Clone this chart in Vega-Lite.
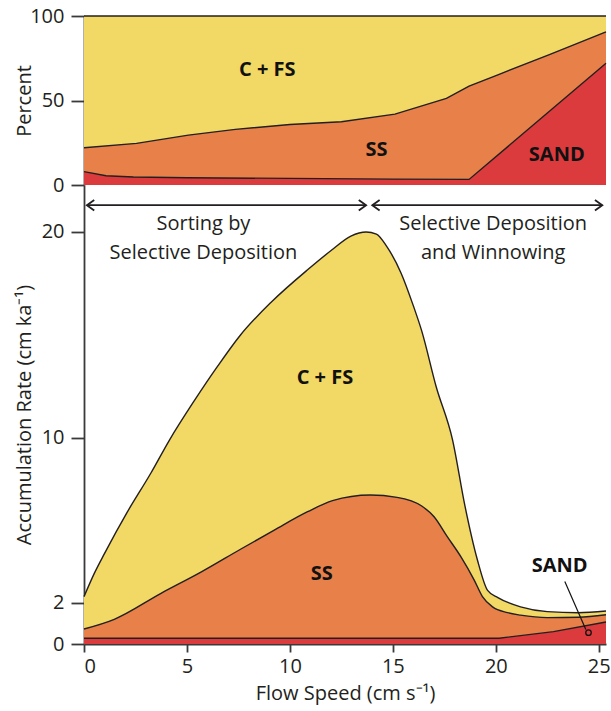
{
  "$schema": "https://vega.github.io/schema/vega-lite/v6.json",
  "background": "white",
  "padding": {"left": 14, "top": 6, "right": 2, "bottom": 2},
  "spacing": 0,
  "bounds": "flush",
  "config": {
    "view": {"stroke": null},
    "font": "Open Sans",
    "axis": {
      "domainColor": "#3a3a3a", "domainWidth": 1.8,
      "tickColor": "#3a3a3a", "tickWidth": 1.8,
      "labelFontSize": 20, "labelColor": "#231f20", "labelFont": "Open Sans",
      "titleFontSize": 20, "titleFontWeight": "normal", "titleColor": "#231f20", "titleFont": "Open Sans",
      "grid": false
    }
  },
  "datasets": {
    "pct": [
      {"series": "C + FS", "flow": 0, "value": 100},
      {"series": "C + FS", "flow": 25.35, "value": 100},
      {"series": "SS", "flow": 0, "value": 22},
      {"series": "SS", "flow": 2.55, "value": 24.6},
      {"series": "SS", "flow": 5.07, "value": 29.5},
      {"series": "SS", "flow": 7.35, "value": 32.9},
      {"series": "SS", "flow": 10, "value": 35.8},
      {"series": "SS", "flow": 12.5, "value": 37.4},
      {"series": "SS", "flow": 15.1, "value": 41.9},
      {"series": "SS", "flow": 17.6, "value": 51.2},
      {"series": "SS", "flow": 18.7, "value": 58.5},
      {"series": "SS", "flow": 20.1, "value": 65.2},
      {"series": "SS", "flow": 22.6, "value": 77.2},
      {"series": "SS", "flow": 25.35, "value": 90.6},
      {"series": "SAND", "flow": 0, "value": 7.9},
      {"series": "SAND", "flow": 1.07, "value": 5.5},
      {"series": "SAND", "flow": 2.4, "value": 4.7},
      {"series": "SAND", "flow": 5, "value": 4.3},
      {"series": "SAND", "flow": 10, "value": 3.9},
      {"series": "SAND", "flow": 15, "value": 3.5},
      {"series": "SAND", "flow": 18.7, "value": 3.3},
      {"series": "SAND", "flow": 25.35, "value": 72}
    ],
    "acc": [
      {"series": "C + FS", "flow": 0, "value": 2.3},
      {"series": "C + FS", "flow": 0.5, "value": 3.43},
      {"series": "C + FS", "flow": 1.0, "value": 4.4},
      {"series": "C + FS", "flow": 2.1, "value": 6.4},
      {"series": "C + FS", "flow": 3.25, "value": 8.3},
      {"series": "C + FS", "flow": 4.15, "value": 9.9},
      {"series": "C + FS", "flow": 5.35, "value": 11.8},
      {"series": "C + FS", "flow": 6.5, "value": 13.5},
      {"series": "C + FS", "flow": 7.6, "value": 15.0},
      {"series": "C + FS", "flow": 9.1, "value": 16.6},
      {"series": "C + FS", "flow": 10.9, "value": 18.2},
      {"series": "C + FS", "flow": 12.0, "value": 19.1},
      {"series": "C + FS", "flow": 12.96, "value": 19.8},
      {"series": "C + FS", "flow": 13.7, "value": 20.0},
      {"series": "C + FS", "flow": 14.2, "value": 19.9},
      {"series": "C + FS", "flow": 14.7, "value": 19.3},
      {"series": "C + FS", "flow": 15.4, "value": 18.0},
      {"series": "C + FS", "flow": 16.0, "value": 16.4},
      {"series": "C + FS", "flow": 16.4, "value": 15.2},
      {"series": "C + FS", "flow": 17.1, "value": 12.5},
      {"series": "C + FS", "flow": 17.9, "value": 9.9},
      {"series": "C + FS", "flow": 18.5, "value": 6.7},
      {"series": "C + FS", "flow": 19.1, "value": 4.1},
      {"series": "C + FS", "flow": 19.6, "value": 2.6},
      {"series": "C + FS", "flow": 20.1, "value": 2.25},
      {"series": "C + FS", "flow": 21.2, "value": 1.8},
      {"series": "C + FS", "flow": 22.5, "value": 1.57},
      {"series": "C + FS", "flow": 24.0, "value": 1.52},
      {"series": "C + FS", "flow": 25.35, "value": 1.6},
      {"series": "SS", "flow": 0, "value": 0.73},
      {"series": "SS", "flow": 1.47, "value": 1.2},
      {"series": "SS", "flow": 3.74, "value": 2.46},
      {"series": "SS", "flow": 5.7, "value": 3.5},
      {"series": "SS", "flow": 7.6, "value": 4.6},
      {"series": "SS", "flow": 9.24, "value": 5.53},
      {"series": "SS", "flow": 10.86, "value": 6.42},
      {"series": "SS", "flow": 12.07, "value": 6.96},
      {"series": "SS", "flow": 13.9, "value": 7.23},
      {"series": "SS", "flow": 15.2, "value": 7.12},
      {"series": "SS", "flow": 16.4, "value": 6.7},
      {"series": "SS", "flow": 17.0, "value": 6.18},
      {"series": "SS", "flow": 17.65, "value": 5.2},
      {"series": "SS", "flow": 18.3, "value": 4.24},
      {"series": "SS", "flow": 18.95, "value": 3.1},
      {"series": "SS", "flow": 19.35, "value": 2.3},
      {"series": "SS", "flow": 19.84, "value": 1.8},
      {"series": "SS", "flow": 20.57, "value": 1.52},
      {"series": "SS", "flow": 21.2, "value": 1.4},
      {"series": "SS", "flow": 22.5, "value": 1.28},
      {"series": "SS", "flow": 24.0, "value": 1.3},
      {"series": "SS", "flow": 25.35, "value": 1.42},
      {"series": "SAND", "flow": 0, "value": 0.28},
      {"series": "SAND", "flow": 20.16, "value": 0.28},
      {"series": "SAND", "flow": 22.8, "value": 0.6},
      {"series": "SAND", "flow": 25.35, "value": 1.07}
    ],
    "pctLabels": [
      {"label": "C + FS", "flow": 8.9, "value": 68.3},
      {"label": "SS", "flow": 14.2, "value": 20.7},
      {"label": "SAND", "flow": 22.96, "value": 17.5}
    ],
    "accLabels": [
      {"label": "C + FS", "flow": 11.7, "value": 12.9},
      {"label": "SS", "flow": 11.55, "value": 3.4},
      {"label": "SAND", "flow": 23.1, "value": 3.8}
    ],
    "notes": [
      {"label": "Sorting by", "flow": 5.8, "value": 20.4},
      {"label": "Selective Deposition", "flow": 5.8, "value": 19.0},
      {"label": "Selective Deposition", "flow": 19.87, "value": 20.4},
      {"label": "and Winnowing", "flow": 19.87, "value": 19.0}
    ],
    "arrows": [
      {"start": 0.14, "end": 13.7, "value": 21.3},
      {"start": 14.0, "end": 25.17, "value": 21.3}
    ],
    "heads": [
      {"dir": "left", "flow": 0.14, "value": 21.3},
      {"dir": "right", "flow": 13.7, "value": 21.3},
      {"dir": "left", "flow": 14.0, "value": 21.3},
      {"dir": "right", "flow": 25.17, "value": 21.3}
    ],
    "pointer": [
      {"flow": 23.35, "value": 3.03, "flow2": 24.37, "value2": 0.7}
    ],
    "pointerEnd": [
      {"flow": 24.5, "value": 0.55}
    ]
  },
  "vconcat": [
    {
      "width": 522,
      "height": 169,
      "layer": [
        {
          "data": {"name": "pct"},
          "transform": [{"filter": "datum.series == 'C + FS'"}],
          "mark": {"type": "area", "color": "#F2D865", "opacity": 1, "line": {"color": "#231f20", "strokeWidth": 1.4}},
          "encoding": {
            "x": {"field": "flow", "type": "quantitative", "scale": {"domain": [0, 25.35], "nice": false, "zero": false}, "axis": null},
            "y": {"field": "value", "type": "quantitative", "scale": {"domain": [0, 100], "nice": false},
                  "axis": {"values": [0, 50, 100], "title": "Percent", "tickSize": 13, "labelPadding": 7, "titleX": -54, "titleBaseline": "alphabetic"}}
          }
        },
        {
          "data": {"name": "pct"},
          "transform": [{"filter": "datum.series == 'SS'"}],
          "mark": {"type": "area", "color": "#E8804A", "opacity": 1, "line": {"color": "#231f20", "strokeWidth": 1.4}},
          "encoding": {
            "x": {"field": "flow", "type": "quantitative"},
            "y": {"field": "value", "type": "quantitative"}
          }
        },
        {
          "data": {"name": "pct"},
          "transform": [{"filter": "datum.series == 'SAND'"}],
          "mark": {"type": "area", "color": "#DC3B3E", "opacity": 1, "line": {"color": "#231f20", "strokeWidth": 1.4}},
          "encoding": {
            "x": {"field": "flow", "type": "quantitative"},
            "y": {"field": "value", "type": "quantitative"}
          }
        },
        {
          "data": {"name": "pctLabels"},
          "mark": {"type": "text", "fontSize": 20, "fontWeight": "bold", "color": "#111111", "font": "Open Sans"},
          "encoding": {
            "x": {"field": "flow", "type": "quantitative"},
            "y": {"field": "value", "type": "quantitative"},
            "text": {"field": "label"}
          }
        }
      ]
    },
    {
      "width": 522,
      "height": 459,
      "layer": [
        {
          "data": {"name": "acc"},
          "transform": [{"filter": "datum.series == 'C + FS'"}],
          "mark": {"type": "area", "color": "#F2D865", "opacity": 1, "interpolate": "monotone", "line": {"color": "#231f20", "strokeWidth": 1.4}},
          "encoding": {
            "x": {"field": "flow", "type": "quantitative", "scale": {"domain": [0, 25.35], "nice": false, "zero": false},
                  "axis": {"values": [0, 5, 10, 15, 20, 25], "title": "Flow Speed (cm s⁻¹)", "tickSize": 8, "labelPadding": 4, "titlePadding": 7}},
            "y": {"field": "value", "type": "quantitative", "scale": {"domain": [0, 22.28], "nice": false},
                  "axis": {"values": [0, 2, 10, 20], "title": "Accumulation Rate (cm ka⁻¹)", "tickSize": 13, "labelPadding": 7, "titleX": -54, "titleBaseline": "alphabetic"}}
          }
        },
        {
          "data": {"name": "acc"},
          "transform": [{"filter": "datum.series == 'SS'"}],
          "mark": {"type": "area", "color": "#E8804A", "opacity": 1, "interpolate": "monotone", "line": {"color": "#231f20", "strokeWidth": 1.4}},
          "encoding": {
            "x": {"field": "flow", "type": "quantitative"},
            "y": {"field": "value", "type": "quantitative"}
          }
        },
        {
          "data": {"name": "acc"},
          "transform": [{"filter": "datum.series == 'SAND'"}],
          "mark": {"type": "area", "color": "#DC3B3E", "opacity": 1, "line": {"color": "#231f20", "strokeWidth": 1.4}},
          "encoding": {
            "x": {"field": "flow", "type": "quantitative"},
            "y": {"field": "value", "type": "quantitative"}
          }
        },
        {
          "data": {"name": "accLabels"},
          "mark": {"type": "text", "fontSize": 20, "fontWeight": "bold", "color": "#111111", "font": "Open Sans"},
          "encoding": {
            "x": {"field": "flow", "type": "quantitative"},
            "y": {"field": "value", "type": "quantitative"},
            "text": {"field": "label"}
          }
        },
        {
          "data": {"name": "notes"},
          "mark": {"type": "text", "fontSize": 20, "color": "#231f20", "font": "Open Sans"},
          "encoding": {
            "x": {"field": "flow", "type": "quantitative"},
            "y": {"field": "value", "type": "quantitative"},
            "text": {"field": "label"}
          }
        },
        {
          "data": {"name": "arrows"},
          "mark": {"type": "rule", "color": "#231f20", "strokeWidth": 1.8},
          "encoding": {
            "x": {"field": "start", "type": "quantitative"},
            "x2": {"field": "end"},
            "y": {"field": "value", "type": "quantitative"}
          }
        },
        {
          "data": {"name": "heads"},
          "transform": [{"filter": "datum.dir == 'left'"}],
          "mark": {"type": "point", "shape": "M 1.4 -1 L 0 0 L 1.4 1", "size": 110, "filled": false, "stroke": "#231f20", "strokeWidth": 1.8, "opacity": 1},
          "encoding": {
            "x": {"field": "flow", "type": "quantitative"},
            "y": {"field": "value", "type": "quantitative"}
          }
        },
        {
          "data": {"name": "heads"},
          "transform": [{"filter": "datum.dir == 'right'"}],
          "mark": {"type": "point", "shape": "M -1.4 -1 L 0 0 L -1.4 1", "size": 110, "filled": false, "stroke": "#231f20", "strokeWidth": 1.8, "opacity": 1},
          "encoding": {
            "x": {"field": "flow", "type": "quantitative"},
            "y": {"field": "value", "type": "quantitative"}
          }
        },
        {
          "data": {"name": "pointer"},
          "mark": {"type": "rule", "color": "#111111", "strokeWidth": 1.2},
          "encoding": {
            "x": {"field": "flow", "type": "quantitative"},
            "y": {"field": "value", "type": "quantitative"},
            "x2": {"field": "flow2"},
            "y2": {"field": "value2"}
          }
        },
        {
          "data": {"name": "pointerEnd"},
          "mark": {"type": "point", "shape": "circle", "size": 30, "filled": false, "stroke": "#111111", "strokeWidth": 1.3, "opacity": 1},
          "encoding": {
            "x": {"field": "flow", "type": "quantitative"},
            "y": {"field": "value", "type": "quantitative"}
          }
        }
      ]
    }
  ]
}
